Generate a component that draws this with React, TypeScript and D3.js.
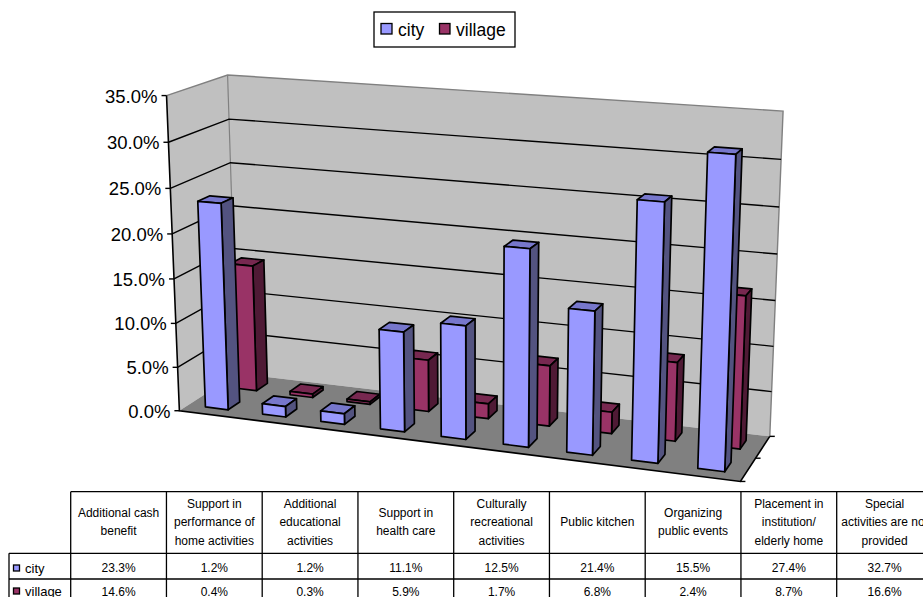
import React from "react";
import * as d3 from "d3";

const categories = [
  ["Additional cash", "benefit"],
  ["Support in", "performance of", "home activities"],
  ["Additional", "educational", "activities"],
  ["Support in", "health care"],
  ["Culturally", "recreational", "activities"],
  ["Public kitchen"],
  ["Organizing", "public events"],
  ["Placement in", "institution/", "elderly home"],
  ["Special", "activities are not", "provided"],
];
const cityValues = [23.3, 1.2, 1.2, 11.1, 12.5, 21.4, 15.5, 27.4, 32.7];
const villageValues = [14.6, 0.4, 0.3, 5.9, 1.7, 6.8, 2.4, 8.7, 16.6];
const valueTicks = [0, 5, 10, 15, 20, 25, 30, 35];

const cityFaces = { front: "#9999FF", top: "#7777CC", side: "#535380" };
const villageFaces = { front: "#993366", top: "#772850", side: "#4F1A35" };

const FONT = "'Liberation Sans', Arial, sans-serif";
const W = 923;
const H = 597;

type P3 = [number, number, number];
type P2 = [number, number];

// Camera calibration: unit-cube points of the plot box and where they land on screen.
const calibration: [P3, P2][] = [
  [[0, 0, 0], [180, 411.5]],
  [[0, 1, 0], [167, 95]],
  [[0, 0, 1], [238, 374]],
  [[0, 1, 1], [227, 75]],
  [[1, 0, 1], [770, 436]],
  [[1, 1, 1], [783, 111]],
  [[1, 0, 0], [741, 482]],
  [[0.3 / 9, 0, 0.15], [204, 405.7]],
  [[0.3 / 9, 23.3 / 35, 0.15], [198, 201.7]],
  [[8.3 / 9, 0, 0.15], [697, 468]],
  [[8.3 / 9, 32.7 / 35, 0.15], [707.7, 152.7]],
];

// Least-squares solve of the 3x4 projection matrix (last entry fixed to 1).
function solveProjection(pairs: [P3, P2][]): number[] {
  const n = 11;
  const A: number[][] = d3.range(n).map(() => new Array(n + 1).fill(0));
  const add = (row: number[], rhs: number) => {
    for (let i = 0; i < n; i++) {
      for (let j = 0; j < n; j++) A[i][j] += row[i] * row[j];
      A[i][n] += row[i] * rhs;
    }
  };
  for (const [[x, y, z], [u, v]] of pairs) {
    add([x, y, z, 1, 0, 0, 0, 0, -u * x, -u * y, -u * z], u);
    add([0, 0, 0, 0, x, y, z, 1, -v * x, -v * y, -v * z], v);
  }
  for (let c = 0; c < n; c++) {
    let pivot = c;
    for (let r = c + 1; r < n; r++) if (Math.abs(A[r][c]) > Math.abs(A[pivot][c])) pivot = r;
    [A[c], A[pivot]] = [A[pivot], A[c]];
    for (let r = 0; r < n; r++) {
      if (r === c) continue;
      const f = A[r][c] / A[c][c];
      for (let k = c; k <= n; k++) A[r][k] -= f * A[c][k];
    }
  }
  return d3.range(n).map((i) => A[i][n] / A[i][i]);
}

const M = solveProjection(calibration);
const project = ([x, y, z]: P3): P2 => {
  const w = M[8] * x + M[9] * y + M[10] * z + 1;
  return [
    (M[0] * x + M[1] * y + M[2] * z + M[3]) / w,
    (M[4] * x + M[5] * y + M[6] * z + M[7]) / w,
  ];
};

const xScale = d3.scaleLinear().domain([0, categories.length]).range([0, 1]);
const yScale = d3.scaleLinear().domain([0, 35]).range([0, 1]);
const lineGen = d3.line<P3>().x((p) => project(p)[0]).y((p) => project(p)[1]);
const poly = (pts: P3[]) => lineGen(pts) + "Z";

const BAR_LEFT = 0.3;
const BAR_WIDTH = 0.4;

function Bar({ index, value, z0, z1, faces }: { index: number; value: number; z0: number; z1: number; faces: typeof cityFaces }) {
  const x0 = xScale(index + BAR_LEFT);
  const x1 = xScale(index + BAR_LEFT + BAR_WIDTH);
  const y = yScale(value);
  return (
    <g stroke="#000" strokeWidth={1.7} strokeLinejoin="round">
      <path d={poly([[x0, y, z0], [x1, y, z0], [x1, y, z1], [x0, y, z1]])} fill={faces.top} />
      <path d={poly([[x1, 0, z0], [x1, y, z0], [x1, y, z1], [x1, 0, z1]])} fill={faces.side} />
      <path d={poly([[x0, 0, z0], [x1, 0, z0], [x1, y, z0], [x0, y, z0]])} fill={faces.front} />
    </g>
  );
}

const COL_X = d3.range(10).map((i) => 70.7 + i * 95.75);
const ROW_Y = [491.7, 553.3, 579, 604];

function DataTable() {
  const lineStyle = { stroke: "#000", strokeWidth: 1.3 };
  const colCenter = (i: number) => (COL_X[i] + COL_X[i + 1]) / 2;
  return (
    <g fontFamily={FONT} fontSize={12} fill="#000">
      <line x1={COL_X[0]} x2={COL_X[9]} y1={ROW_Y[0]} y2={ROW_Y[0]} {...lineStyle} />
      {ROW_Y.slice(1).map((y) => (
        <line key={y} x1={9} x2={COL_X[9]} y1={y} y2={y} {...lineStyle} />
      ))}
      <line x1={9} x2={9} y1={ROW_Y[1]} y2={ROW_Y[3]} {...lineStyle} />
      {COL_X.map((x) => (
        <line key={x} x1={x} x2={x} y1={ROW_Y[0]} y2={ROW_Y[3]} {...lineStyle} />
      ))}
      {categories.map((lines, i) => (
        <text key={i} textAnchor="middle">
          {lines.map((t, k) => (
            <tspan key={k} x={colCenter(i)} y={522 + (k - (lines.length - 1) / 2) * 18.5 + 4.2}>
              {t}
            </tspan>
          ))}
        </text>
      ))}
      {cityValues.map((v, i) => (
        <text key={i} x={colCenter(i)} y={572} textAnchor="middle">{v.toFixed(1)}%</text>
      ))}
      {villageValues.map((v, i) => (
        <text key={i} x={colCenter(i)} y={595.5} textAnchor="middle">{v.toFixed(1)}%</text>
      ))}
      <rect x={13.5} y={565} width={6} height={6} fill={cityFaces.front} stroke="#000" strokeWidth={1.3} />
      <text x={25} y={572.5} fontSize={13}>city</text>
      <rect x={13.5} y={588} width={6} height={6} fill={villageFaces.front} stroke="#000" strokeWidth={1.3} />
      <text x={25} y={596} fontSize={13}>village</text>
    </g>
  );
}

function Legend() {
  return (
    <g fontFamily={FONT} fontSize={17.5} fill="#000">
      <rect x={374} y={12} width={141} height={35} fill="#fff" stroke="#000" strokeWidth={1.3} />
      <rect x={381} y={23.5} width={11} height={10.5} fill={cityFaces.front} stroke="#000" strokeWidth={1.3} />
      <text x={398} y={35.5}>city</text>
      <rect x={439.5} y={23.5} width={10.5} height={10.5} fill={villageFaces.front} stroke="#000" strokeWidth={1.3} />
      <text x={456} y={35.5}>village</text>
    </g>
  );
}

export default function App() {
  return (
    <svg width={W} height={H} viewBox={`0 0 ${W} ${H}`} style={{ position: "absolute", left: 0, top: 0, background: "#fff" }}>
      <Legend />

      {/* plot box */}
      <path d={poly([[0, 0, 0], [0, 1, 0], [0, 1, 1], [0, 0, 1]])} fill="#C0C0C0" />
      <path d={poly([[0, 0, 1], [0, 1, 1], [1, 1, 1], [1, 0, 1]])} fill="#C0C0C0" />
      <path d={poly([[0, 0, 0], [0, 0, 1], [1, 0, 1], [1, 0, 0]])} fill="#808080" />
      <path
        d={lineGen([[0, 1, 0], [0, 1, 1], [1, 1, 1], [1, 0, 1]]) ?? ""}
        fill="none"
        stroke="#808080"
        strokeWidth={1.4}
      />
      <path d={lineGen([[0, 1, 1], [0, 0, 1]]) ?? ""} fill="none" stroke="#808080" strokeWidth={1.2} />

      {/* gridlines across both walls */}
      {valueTicks.filter((v) => v > 0 && v < 35).map((v) => {
        const y = yScale(v);
        return (
          <path key={v} d={lineGen([[0, y, 0], [0, y, 1], [1, y, 1]]) ?? ""} fill="none" stroke="#000" strokeWidth={1.4} />
        );
      })}

      {/* value axis */}
      <path d={lineGen([[0, 1, 0], [0, 0, 0], [1, 0, 0], [1, 0, 1]]) ?? ""} fill="none" stroke="#000" strokeWidth={1.6} />
      {valueTicks.map((v) => {
        const [px, py] = project([0, yScale(v), 0]);
        return (
          <g key={v}>
            <line x1={px - 5} x2={px} y1={py} y2={py} stroke="#000" strokeWidth={1.4} />
            <text x={px - 9} y={py + 7} textAnchor="end" fontFamily={FONT} fontSize={18.5} fill="#000">
              {v.toFixed(1)}%
            </text>
          </g>
        );
      })}
      {[0, 0.5, 1].map((z) => {
        const [px, py] = project([1, 0, z]);
        return <line key={z} x1={px} x2={px + 5} y1={py} y2={py} stroke="#000" strokeWidth={1.4} />;
      })}

      {/* far row first, so the near row paints over it */}
      {villageValues.map((v, i) => (
        <Bar key={i} index={i} value={v} z0={0.65} z1={0.85} faces={villageFaces} />
      ))}
      {cityValues.map((v, i) => (
        <Bar key={i} index={i} value={v} z0={0.15} z1={0.35} faces={cityFaces} />
      ))}

      <DataTable />
    </svg>
  );
}
